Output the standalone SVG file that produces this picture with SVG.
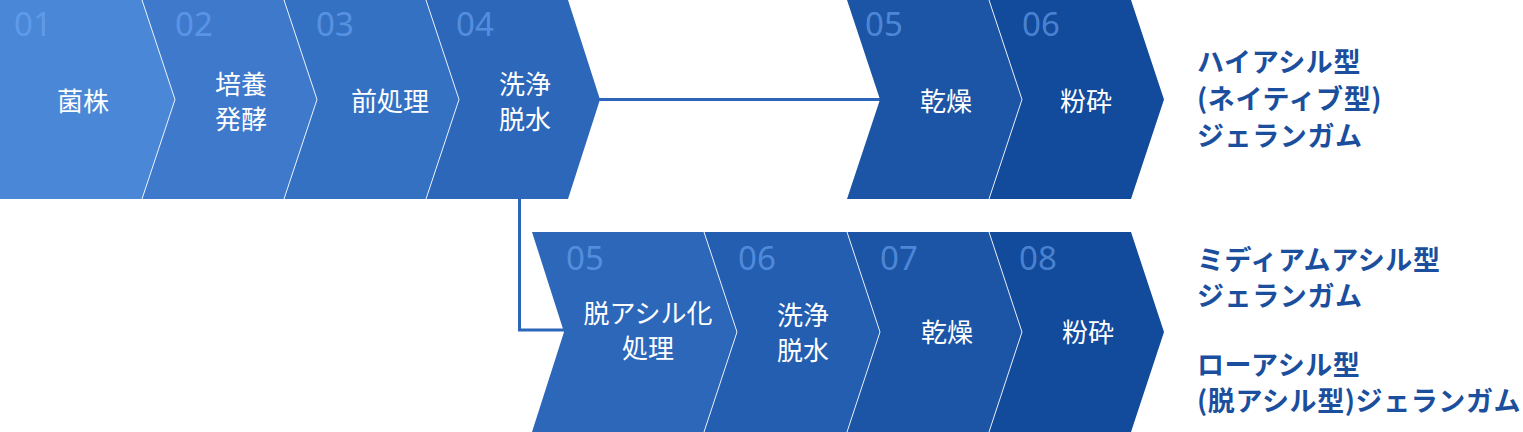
<svg xmlns="http://www.w3.org/2000/svg" width="1523" height="432" viewBox="0 0 1523 432">
<style>
.num{font-family:"Noto Sans","Open Sans",sans-serif;font-size:33px;fill:#6FA8F5;fill-opacity:0.62}
.lbl{font-family:"Noto Sans CJK JP","Noto Sans",sans-serif;font-size:26px;fill:#ffffff;text-anchor:middle}
.res{font-family:"Noto Sans CJK JP","Noto Sans",sans-serif;font-size:27px;font-weight:700;fill:#1B4F9E;letter-spacing:0.6px}
.div{fill:none;stroke:#ffffff;stroke-width:1;stroke-opacity:0.85}
.conn{fill:none;stroke:#2C66BA;stroke-width:3}
</style>
<g id="connectors">
<polyline class="conn" points="598,99.5 882,99.5"/>
<polyline class="conn" points="519.5,198 519.5,330 566,330"/>
</g>
<g id="step01">
<polygon points="0,0 142,0 175,99.5 142,199 0,199" fill="#4A87D7"/>
<text class="num" x="14" y="36">01</text>
<text class="lbl" x="83" y="111">菌株</text>
</g>
<g id="step02">
<polygon points="142,0 284,0 317,99.5 284,199 142,199 175,99.5" fill="#3E79CC"/>
<text class="num" x="175" y="36">02</text>
<text class="lbl" x="241" y="94">培養</text>
<text class="lbl" x="241" y="129">発酵</text>
</g>
<g id="step03">
<polygon points="284,0 426,0 459,99.5 426,199 284,199 317,99.5" fill="#3571C3"/>
<text class="num" x="316" y="36">03</text>
<text class="lbl" x="390" y="111">前処理</text>
</g>
<g id="step04">
<polygon points="426,0 568,0 600,99.5 568,199 426,199 459,99.5" fill="#2D67BA"/>
<text class="num" x="456" y="36">04</text>
<text class="lbl" x="525" y="94">洗浄</text>
<text class="lbl" x="525" y="129">脱水</text>
</g>
<g id="step05a">
<polygon points="847,0 989,0 1022,99.5 989,199 847,199 880,99.5" fill="#1C55A6"/>
<text class="num" x="865" y="36">05</text>
<text class="lbl" x="946" y="111">乾燥</text>
</g>
<g id="step06a">
<polygon points="989,0 1131,0 1164,99.5 1131,199 989,199 1022,99.5" fill="#124A9C"/>
<text class="num" x="1022" y="36">06</text>
<text class="lbl" x="1086" y="111">粉砕</text>
</g>
<g id="step05b">
<polygon points="532,232 704,232 737,332 704,432 532,432 564,332" fill="#2C67BA"/>
<text class="num" x="566" y="270">05</text>
<text class="lbl" x="648" y="323">脱アシル化</text>
<text class="lbl" x="648" y="358">処理</text>
</g>
<g id="step06b">
<polygon points="704,232 847,232 880,332 847,432 704,432 737,332" fill="#235EB1"/>
<text class="num" x="738" y="270">06</text>
<text class="lbl" x="803" y="325">洗浄</text>
<text class="lbl" x="803" y="360">脱水</text>
</g>
<g id="step07b">
<polygon points="847,232 989,232 1022,332 989,432 847,432 880,332" fill="#1C55A6"/>
<text class="num" x="880" y="270">07</text>
<text class="lbl" x="947" y="342">乾燥</text>
</g>
<g id="step08b">
<polygon points="989,232 1131,232 1164,332 1131,432 989,432 1022,332" fill="#124A9C"/>
<text class="num" x="1019" y="270">08</text>
<text class="lbl" x="1088" y="342">粉砕</text>
</g>
<g id="dividers">
<polyline class="div" points="142,0 175,99.5 142,199"/>
<polyline class="div" points="284,0 317,99.5 284,199"/>
<polyline class="div" points="426,0 459,99.5 426,199"/>
<polyline class="div" points="989,0 1022,99.5 989,199"/>
<polyline class="div" points="704,232 737,332 704,432"/>
<polyline class="div" points="847,232 880,332 847,432"/>
<polyline class="div" points="989,232 1022,332 989,432"/>
</g>
<g id="result-high">
<text class="res" x="1197" y="72">ハイアシル型</text>
<text class="res" x="1197" y="109">(ネイティブ型)</text>
<text class="res" x="1197" y="146">ジェランガム</text>
</g>
<g id="result-medium">
<text class="res" x="1197" y="270">ミディアムアシル型</text>
<text class="res" x="1197" y="306">ジェランガム</text>
</g>
<g id="result-low">
<text class="res" x="1197" y="375">ローアシル型</text>
<text class="res" x="1197" y="411">(脱アシル型)ジェランガム</text>
</g>
</svg>
